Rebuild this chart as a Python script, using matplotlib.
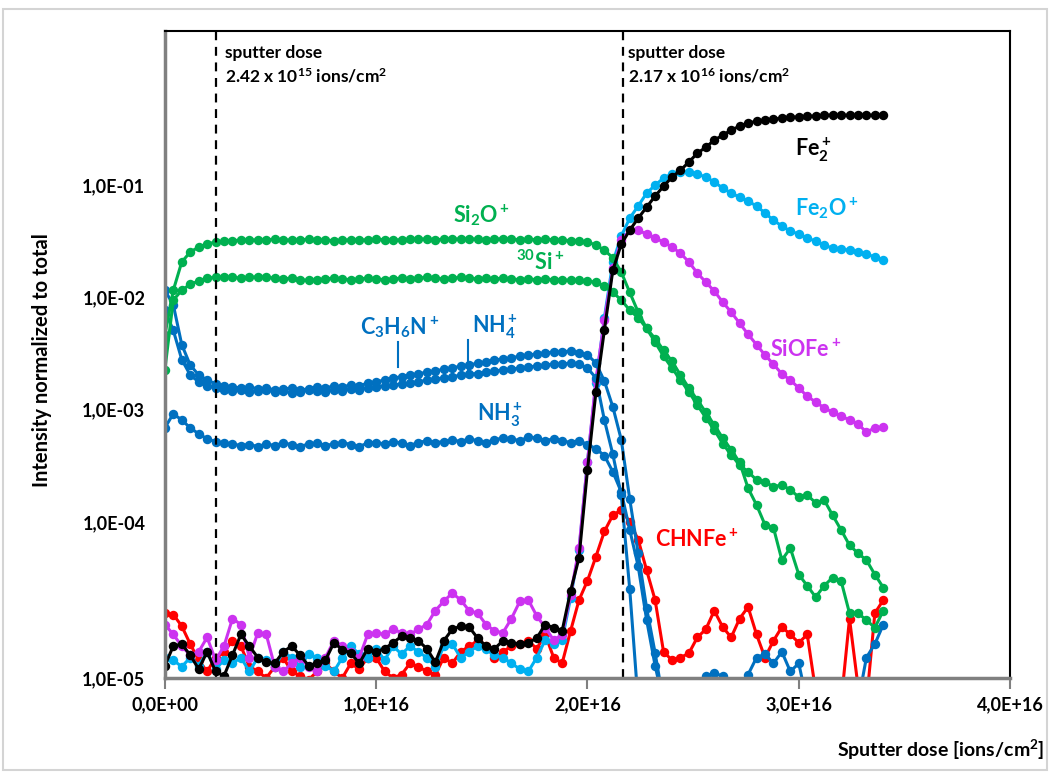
import numpy as np
import matplotlib
matplotlib.use("Agg")
import matplotlib.pyplot as plt
from matplotlib.patches import Rectangle
from matplotlib.ticker import NullLocator
from matplotlib.transforms import blended_transform_factory

plt.rcParams["font.family"] = ["Lato", "DejaVu Sans"]
plt.rcParams["font.weight"] = "bold"
plt.rcParams["mathtext.fontset"] = "custom"
plt.rcParams["mathtext.rm"] = "Lato:bold"
plt.rcParams["mathtext.it"] = "Lato:bold"
plt.rcParams["mathtext.bf"] = "Lato:bold"
plt.rcParams["mathtext.default"] = "rm"

# sputter dose grid [ions/cm2], one point every 4e14
dose = np.linspace(0, 3.4e16, 86)

si2o = [.00463, .0116, .0207, .0254, .0281, .0299, .0312, .0318,
        .0321, .0324, .0327, .0324, .0327, .0330, .0327, .0324, .0327, .0330,
        .0327, .0324, .0321, .0324, .0327, .0324, .0327, .0330, .0327, .0324,
        .0327, .0330, .0334, .0330, .0327, .0330, .0334, .0330, .0334, .0330,
        .0327, .0330, .0334, .0330, .0327, .0330, .0327, .0330, .0327, .0324,
        .0321, .0318,
        .0312, .0293, .0264, .0226, .0168, .0111, .0074, .0053, .0040, .0030,
        .00235, .00184, .00144, .0011, .00085, .00066, .0005, .000395, .000322,
        .00028, .000237, .000228, .000206, .000214, .000193, .000167, .000174,
        .000148, .000157, .000115, 8.9e-5, 7.1e-5, 6.3e-5, 5.7e-5, 4.6e-5, 3.8e-5]

si30 = [.00226, .00948, .0116, .0131, .0140, .0149,
        .0151, .0153, .0151, .0149, .0151, .0153, .0151, .0149, .0146, .0149,
        .0144, .0142, .0144, .0146, .0149, .0146, .0144, .0146, .0149, .0146,
        .0144, .0146, .0149, .0146, .0149, .0151, .0149, .0146, .0149, .0151,
        .0149, .0146, .0149, .0146, .0149, .0146, .0144, .0146, .0144, .0146,
        .0144, .0144, .0142, .0142,
        .0140, .0137, .0126, .0111, .0095, .0077, .0066, .0053, .0043, .0034,
        .0027, .00204, .00156, .00122, .00095, .00073, .00056, .00044, .00034,
        .0002, .000142, 9.6e-5, 9.2e-5, 5.7e-5, 6.8e-5, 4.6e-5, 3.9e-5, 3.3e-5,
        3.9e-5, 4.4e-5, 4.2e-5, 2.6e-5, 2.6e-5, 2.35e-5, 2.1e-5, 2.7e-5]

fe2 = [1.2e-5, 1.6e-5, 1.65e-5, 1.4e-5, 1.14e-5, 1.47e-5, 1.1e-5, 1.03e-5,
       1.4e-5, 1.9e-5, 1.6e-5, 1.35e-5, 1.26e-5, 1.24e-5, 1.47e-5, 1.6e-5,
       1.4e-5, 1.2e-5, 1.24e-5, 1.3e-5, 1.68e-5, 1.52e-5, 1.44e-5, 1.24e-5,
       1.54e-5, 1.47e-5, 1.54e-5, 1.68e-5, 1.85e-5, 1.8e-5, 1.73e-5, 1.54e-5,
       1.26e-5, 1.73e-5, 2.05e-5, 2.15e-5, 2.12e-5, 1.8e-5, 1.6e-5, 1.54e-5,
       1.73e-5, 1.68e-5, 1.65e-5, 1.68e-5, 1.8e-5, 2.2e-5, 2.1e-5, 2.0e-5,
       3.6e-5, 5.9e-5, .000291, .00144, .00513, .0175, .0299, .0398, .0509,
       .0638, .080, .098, .118, .136, .161, .193, .218, .252, .279,
       .310, .336, .357, .372, .380, .388, .396, .405, .405, .413, .413,
       .421, .421, .421, .421, .421, .421, .421, .421]

fe2o = [1.35e-5, 1.3e-5, 1.18e-5, 1.35e-5, 1.2e-5, 1.47e-5, 1.14e-5, 1.3e-5,
        1.24e-5, 1.35e-5, 1.1e-5, 1.35e-5, 1.3e-5, 1.18e-5, 1.47e-5, 1.35e-5,
        1.18e-5, 1.42e-5, 1.35e-5, 1.2e-5, 1.1e-5, 1.35e-5, 1.6e-5, 1.42e-5,
        1.35e-5, 1.54e-5, 1.3e-5, 1.6e-5, 1.42e-5, 1.6e-5, 1.47e-5, 1.35e-5,
        1.18e-5, 1.6e-5, 1.65e-5, 1.35e-5, 1.47e-5, 1.6e-5, 1.54e-5, 1.4e-5,
        1.35e-5, 1.24e-5, 1.14e-5, 1.1e-5, 1.35e-5, 1.75e-5, 1.65e-5, 1.75e-5,
        3.26e-5, 6.6e-5, .000342, .00173, .0066, .0206, .0353, .0509, .0653,
        .0851, .100, .116, .126, .131, .131, .126, .118, .107, .0942,
        .0851, .0783, .0721, .0653, .0566, .0488, .0433, .039, .0367, .0338,
        .0318, .0293, .0275, .027, .0264, .0253, .0244, .0229, .0215]

siofe = [2.2e-5, 1.9e-5, 1.6e-5, 1.4e-5, 1.47e-5, 1.82e-5, 1.3e-5, 1.6e-5,
         2.4e-5, 2.2e-5, 1.35e-5, 1.95e-5, 1.9e-5, 1.18e-5, 1.1e-5, 1.24e-5,
         1.35e-5, 1.18e-5, 1.1e-5, 1.35e-5, 1.73e-5, 1.6e-5, 1.47e-5, 1.35e-5,
         1.9e-5, 1.95e-5, 1.9e-5, 2.05e-5, 1.95e-5, 1.9e-5, 2.05e-5, 2.2e-5,
         2.7e-5, 3.1e-5, 3.5e-5, 3.16e-5, 2.7e-5, 2.6e-5, 2.2e-5, 2.0e-5,
         1.95e-5, 2.4e-5, 3.1e-5, 3.16e-5, 2.5e-5, 2.1e-5, 1.75e-5, 1.89e-5,
         3.4e-5, 6.8e-5, .000342, .00184, .0063, .0182, .0324, .0398, .0398,
         .0367, .0338, .0312, .0281, .0248, .0207, .0165, .0137, .0114, .0091,
         .0074, .0059, .0047, .0038, .00307, .00255, .00208, .00184, .00156,
         .00132, .00117, .00104, .00095, .00088, .00081, .00075, .00063, .00069, .0007]

chnfe = [2.6e-5, 2.55e-5, 2.15e-5, 1.65e-5, 1.3e-5, 1.1e-5, 1.35e-5, 1.47e-5,
         1.73e-5, 1.6e-5, 1.18e-5, 1.1e-5, 1.0e-5, 1.18e-5, 1.35e-5, 1.1e-5,
         1.03e-5, 9.7e-6, 1.1e-5, 1.24e-5, 1.1e-5, 1.0e-5, 1.24e-5, 1.14e-5,
         1.35e-5, 1.35e-5, 1.1e-5, 1.0e-5, 1.05e-5, 1.24e-5, 1.18e-5, 1.1e-5,
         1.05e-5, 1.35e-5, 1.24e-5, 1.47e-5, 1.6e-5, 1.73e-5, 1.6e-5, 1.35e-5,
         1.47e-5, 1.6e-5, 1.65e-5, 1.73e-5, 1.54e-5, 1.9e-5, 1.35e-5, 1.24e-5,
         2.0e-5, 3.16e-5, 4.2e-5, 6.0e-5, 8.7e-5, 1.15e-4, 1.28e-4, 1.0e-4,
         7.7e-5, 4.9e-5, 3.16e-5, 1.47e-5, 1.3e-5, 1.35e-5, 1.44e-5, 1.82e-5,
         2.05e-5, 2.7e-5, 2.12e-5, 1.82e-5, 2.4e-5, 2.85e-5, 1.9e-5, 1.35e-5,
         1.73e-5, 2.12e-5, 1.9e-5, 1.68e-5, 1.9e-5, 8.2e-6, 6.9e-6, 6.9e-6,
         6.9e-6, 2.4e-5, 8.9e-6, 6.9e-6, 2.6e-5, 3.16e-5]

nh3 = [6.9e-4, 9.2e-4, 8.1e-4, 6.9e-4, 6.1e-4, 5.5e-4, 5.2e-4, 5.05e-4,
       4.95e-4, 4.8e-4, 4.9e-4, 4.7e-4, 4.95e-4, 4.8e-4, 5.05e-4, 4.9e-4,
       4.7e-4, 4.95e-4, 5.05e-4, 4.8e-4, 4.95e-4, 5.1e-4, 4.9e-4, 4.7e-4,
       5.05e-4, 5.1e-4, 4.95e-4, 5.2e-4, 5.05e-4, 4.8e-4, 5.1e-4, 5.3e-4,
       5.1e-4, 5.2e-4, 5.4e-4, 5.2e-4, 5.5e-4, 5.3e-4, 5.1e-4, 5.4e-4,
       5.6e-4, 5.5e-4, 5.3e-4, 5.7e-4, 5.6e-4, 5.3e-4, 5.5e-4, 5.3e-4,
       5.1e-4, 5.3e-4, 4.9e-4, 4.5e-4, 3.9e-4, 2.8e-4, 1.85e-4, 8.9e-5,
       5.2e-5, 2.35e-5, 1.2e-5, 6.9e-6, 6.9e-6, 6.9e-6, 6.9e-6, 8.9e-6,
       1.03e-5, 1.07e-5, 1.03e-5, 6.9e-6, 6.9e-6, 1.05e-5, 1.35e-5, 1.42e-5,
       1.24e-5, 1.47e-5, 1.1e-5, 1.24e-5, 6.9e-6, 6.9e-6, 6.9e-6, 6.9e-6,
       6.9e-6, 6.9e-6, 6.9e-6, 1.35e-5, 1.65e-5, 2.2e-5]

c3h6n = [.0116, .0086, .0038, .0025, .00204, .00184, .0017, .00163,
         .0016, .00156, .0016, .00153, .00156, .0015, .00153, .00156,
         .0015, .00153, .0016, .00156, .00163, .0016, .00166, .00163,
         .00173, .00177, .00184, .00192, .00196, .00204, .00208, .00217,
         .00221, .0023, .00235, .00245, .0025, .0026, .00265, .00277,
         .00283, .00289, .00301, .00307, .00314, .0032, .00327, .00327,
         .00334, .0032, .0031, .0026, .0018, .00106, .00054, .00016,
         6.3e-5, 2.8e-5, 1.45e-5, 6.9e-6]

nh4 = [.0077, .0051, .0028, .00204, .00177, .00163, .00156, .0015,
       .00147, .0015, .00144, .00147, .0015, .00144, .00147, .00141,
       .00144, .0015, .00147, .00144, .0015, .00147, .00153, .0015,
       .00156, .0016, .00163, .00166, .0017, .00173, .00177, .00184,
       .00188, .00192, .00196, .00204, .00208, .0021, .00217, .00221,
       .00226, .0023, .00235, .0024, .00245, .0025, .00255, .00255,
       .0026, .00255, .00235, .00192, .00081, .0004, .000174, 3.7e-5, 6.9e-6]

y_ticks = [1e-5, 1e-4, 1e-3, 1e-2, 1e-1]
y_labels = ["1,0E-05", "1,0E-04", "1,0E-03", "1,0E-02", "1,0E-01"]
x_ticks = [0, 1e16, 2e16, 3e16, 4e16]
x_labels = ["0,0E+00", "1,0E+16", "2,0E+16", "3,0E+16", "4,0E+16"]
dose_marks = [2.42e15, 2.17e16]

GREEN = "#00B050"
LBLUE = "#00B0F0"
BLUE = "#0070C0"
RED = "#FF0000"
MAGENTA = "#CC33F0"

# the lowest decade of the original axis is drawn taller than the others
STRETCH = 156 / 112.3


def fwd(v):
    lg = np.log10(np.clip(v, 1e-30, None))
    return np.where(lg >= -4, lg, -4 + (lg + 4) * STRETCH)


def inv(t):
    return np.where(t >= -4, 10.0 ** t, 10.0 ** (-4 + (t + 4) / STRETCH))


fig = plt.figure(figsize=(10.5, 7.73), dpi=100)
fig.patches.append(Rectangle((0.003, 0.004), 0.994, 0.985, transform=fig.transFigure,
                             fill=False, edgecolor="#d4d4d4", lw=1.5))
ax = fig.add_axes([0.157, 0.123, 0.805, 0.837])

series = [(chnfe, RED), (fe2o, LBLUE), (siofe, MAGENTA), (nh3, BLUE),
          (c3h6n, BLUE), (nh4, BLUE), (si30, GREEN), (si2o, GREEN), (fe2, "black")]
for vals, col in series:
    ax.plot(dose[:len(vals)], vals, "-o", color=col, lw=2.2, ms=6.8, mec="none")

for xm in dose_marks:
    ax.axvline(xm, color="black", ls=(0, (4, 3)), lw=1.6)

ax.set_yscale("function", functions=(fwd, inv))
ax.set_xlim(0, 4e16)
ax.set_ylim(1e-5, 2.37)
ax.set_yticks(y_ticks)
ax.set_yticklabels(y_labels)
ax.yaxis.set_minor_locator(NullLocator())
ax.set_xticks(x_ticks)
ax.set_xticklabels(x_labels)
ax.tick_params(axis="y", length=0, pad=14, labelsize=13)
ax.tick_params(axis="x", direction="out", length=8, width=1.5, color="#808080",
               pad=5, labelsize=13)

for side in ["left", "bottom"]:
    ax.spines[side].set_color("#808080")
    ax.spines[side].set_linewidth(2.5)
for side in ["top", "right"]:
    ax.spines[side].set_color("black")
    ax.spines[side].set_linewidth(1.5)

# dose annotations
trans = blended_transform_factory(ax.transData, ax.transAxes)
ax.text(0.284e16, 0.978, "sputter dose\n2.42 x 10$^{15}$ ions/cm$^2$", transform=trans,
        ha="left", va="top", fontsize=12.5, linespacing=1.35)
ax.text(2.19e16, 0.978, "sputter dose\n2.17 x 10$^{16}$ ions/cm$^2$", transform=trans,
        ha="left", va="top", fontsize=12.5, linespacing=1.35)

# series labels
lbl = dict(fontsize=15.5, va="center")
ax.text(1.50e16, 0.0541, r"$Si_2O^+$", color=GREEN, ha="center", **lbl)
ax.text(1.775e16, 0.0207, r"$^{30}Si^+$", color=GREEN, ha="center", **lbl)
ax.text(1.11e16, 0.0055, r"$C_3H_6N^+$", color=BLUE, ha="center", **lbl)
ax.text(1.56e16, 0.0055, r"$NH_4^+$", color=BLUE, ha="center", **lbl)
ax.text(1.585e16, 9.0e-4, r"$NH_3^+$", color=BLUE, ha="center", **lbl)
ax.text(2.32e16, 7.7e-5, r"$CHNFe^+$", color=RED, ha="left", **lbl)
ax.text(2.98e16, 0.206, r"$Fe_2^+$", color="black", ha="left", **lbl)
ax.text(2.98e16, 0.0625, r"$Fe_2O^+$", color=LBLUE, ha="left", **lbl)
ax.text(2.864e16, 0.0034, r"$SiOFe^+$", color=MAGENTA, ha="left", **lbl)
ax.plot([1.103e16, 1.103e16], [0.0040, 0.0024], color=BLUE, lw=1.5)
ax.plot([1.434e16, 1.434e16], [0.0042, 0.0022], color=BLUE, lw=1.5)

fig.text(0.04, 0.534, "Intensity normalized to total", rotation=90,
         ha="center", va="center", fontsize=14.5)
fig.text(0.995, 0.03, "Sputter dose [ions/cm$^2$]", ha="right", va="center", fontsize=14)

fig.savefig("out.png", dpi=100)
